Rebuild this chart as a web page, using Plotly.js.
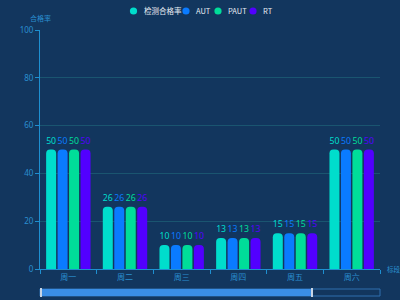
<!DOCTYPE html>
<html><head><meta charset="utf-8">
<script src="https://cdn.plot.ly/plotly-3.0.1.min.js"></script>
<style>html,body{margin:0;padding:0;background:#12365e;}#c{width:400px;height:300px;}</style>
</head><body><div id="c"></div>
<script>
const categories = ['周一','周二','周三','周四','周五','周六'];
const seriesNames = ['检测合格率','AUT','PAUT','RT'];
const rateValues = [50,26,10,13,15,50];
const autValues = [50,26,10,13,15,50];
const pautValues = [50,26,10,13,15,50];
const rtValues = [50,26,10,13,15,50];
const colors = ['#00ddcc','#0a7bff','#00dd99','#5200ff'];
const yTicks = [0,20,40,60,80,100];

const M = {l: 40, r: 20, t: 30, b: 31};
const W = 400, H = 300;
const px2x = p => (p - M.l) / (W - M.l - M.r);
const px2y = p => (H - M.b - p) / (H - M.t - M.b);

const allValues = [rateValues, autValues, pautValues, rtValues];
const data = [];
allValues.forEach((vals, i) => {
  data.push({
    type: 'bar', x: categories, y: vals, name: seriesNames[i],
    marker: {color: colors[i], cornerradius: 5},
    text: vals.map(String), textposition: 'outside', cliponaxis: false,
    textfont: {color: colors[i], size: 9, family: 'Noto Sans'},
    showlegend: false, hoverinfo: 'none'
  });
});

// custom legend (ECharts-like compact layout)
const legendCircleX = [133.5, 186, 218, 253];
const legendTextX = [142, 194, 226, 261];
const legendY = 11;
const shapes = [];
const annotations = [];
seriesNames.forEach((n, i) => {
  shapes.push({type: 'circle', xref: 'paper', yref: 'paper', xsizemode: 'pixel', ysizemode: 'pixel',
    xanchor: px2x(legendCircleX[i]), yanchor: px2y(legendY), x0: -3.6, x1: 3.6, y0: -3.6, y1: 3.6,
    fillcolor: colors[i], line: {width: 0}});
  annotations.push({text: n, xref: 'paper', yref: 'paper', x: px2x(legendTextX[i]), y: px2y(legendY),
    xanchor: 'left', yanchor: 'middle', showarrow: false,
    font: {color: '#e6ecf3', size: 7.5, family: 'Noto Sans CJK SC'}});
});

annotations.push(
  {text: '合格率', xref: 'paper', yref: 'paper', x: 0.0, y: px2y(18), xanchor: 'center', yanchor: 'middle',
   showarrow: false, font: {color: '#2a8fd0', size: 7, family: 'Noto Sans CJK SC'}},
  {text: '标段', xref: 'paper', yref: 'paper', x: px2x(385), y: 0, xanchor: 'left', yanchor: 'middle',
   showarrow: false, font: {color: '#2a8fd0', size: 6.5, family: 'Noto Sans CJK SC'}}
);

// data-zoom slider decoration
shapes.push(
  {type: 'rect', xref: 'paper', yref: 'paper', x0: 0, x1: 1, y0: px2y(296), y1: px2y(289),
   line: {color: '#2f6fae', width: 1}, fillcolor: 'rgba(0,0,0,0)'},
  {type: 'rect', xref: 'paper', yref: 'paper', x0: 0, x1: px2x(312), y0: px2y(296), y1: px2y(289),
   line: {width: 0}, fillcolor: '#3a8ee6'},
  {type: 'rect', xref: 'paper', yref: 'paper', x0: px2x(40), x1: px2x(42), y0: px2y(297), y1: px2y(288),
   line: {width: 0}, fillcolor: '#c8d4e4'},
  {type: 'rect', xref: 'paper', yref: 'paper', x0: px2x(311), x1: px2x(313), y0: px2y(297), y1: px2y(288),
   line: {width: 0}, fillcolor: '#c8d4e4'}
);

const layout = {
  width: W, height: H,
  paper_bgcolor: '#12365e', plot_bgcolor: '#12365e',
  margin: M,
  barmode: 'group', bargap: 0.19, bargroupgap: 0.13,
  font: {family: 'Noto Sans CJK SC', color: '#2a8fd0', size: 8},
  showlegend: false,
  xaxis: {
    type: 'category', showgrid: false, zeroline: false,
    showline: true, linecolor: '#1e8fd0', linewidth: 1,
    ticks: 'outside', ticklen: 4, tickcolor: '#1e8fd0', tickson: 'boundaries',
    tickfont: {color: '#2a8fd0', size: 8, family: 'Noto Sans CJK SC'},
    fixedrange: true
  },
  yaxis: {
    range: [0, 100], tickvals: yTicks, showgrid: true, gridcolor: '#1a5570', gridwidth: 1,
    zeroline: false, showline: true, linecolor: '#1e8fd0', linewidth: 1,
    ticks: 'outside', ticklen: 4, tickcolor: '#1e8fd0',
    tickfont: {color: '#2a8fd0', size: 8, family: 'Noto Sans'},
    fixedrange: true
  },
  annotations: annotations,
  shapes: shapes
};
Plotly.newPlot('c', data, layout, {displayModeBar: false, staticPlot: true});
</script></body></html>
